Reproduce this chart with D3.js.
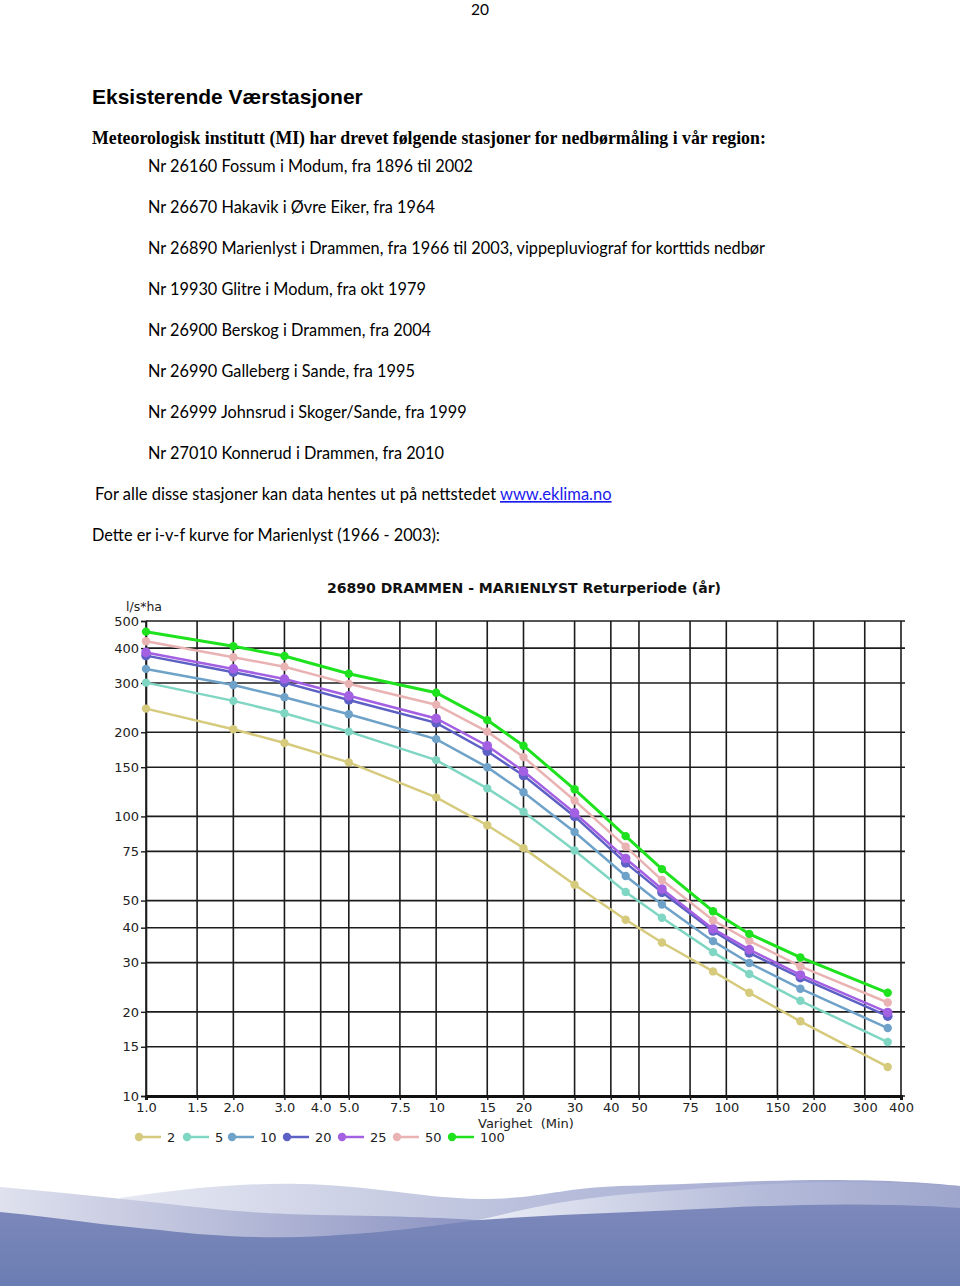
<!DOCTYPE html>
<html><head><meta charset="utf-8">
<script src="https://cdn.jsdelivr.net/npm/d3@7/dist/d3.min.js"></script>
<style>body{margin:0;background:#fff;} svg{display:block;}</style>
</head><body>
<svg id="page" width="960" height="1286"></svg>
<script>
// ---------- DATA ----------
const durations = [1, 2, 3, 5, 10, 15, 20, 30, 45, 60, 90, 120, 180, 360];
const returnPeriods = ["2", "5", "10", "20", "25", "50", "100"];
const t2   = [243, 205, 183, 156, 117, 93, 77, 57, 42.7, 35.4, 27.9, 23.4, 18.5, 12.7];
const t5   = [301, 259, 234, 201, 159, 126, 104, 75.5, 53.7, 43.4, 32.7, 27.3, 21.9, 15.6];
const t10  = [337, 295, 267, 232, 189, 150, 122, 88, 61.2, 48.4, 35.8, 29.9, 24.2, 17.5];
const t20  = [376, 328, 301, 261, 216, 171, 140, 100, 68.2, 53.5, 38.9, 32.5, 26.5, 19.3];
const t25  = [386, 337, 310, 270, 224, 179, 145, 103, 70.7, 55, 39.6, 33.4, 27.1, 19.9];
const t50  = [423, 371, 343, 298, 251, 201, 163, 114, 78, 59.2, 42.5, 35.9, 29.1, 21.6];
const t100 = [458, 406, 375, 324, 277, 221, 179, 125, 85, 64.8, 45.8, 38, 31.3, 23.4];
const seriesValues = [t2, t5, t10, t20, t25, t50, t100];
const seriesColors = ["#d6ca7c", "#7fd6c2", "#6fa2c9", "#5d60c4", "#a460e2", "#e9b3b3", "#1ee21e"];

const xTickValues = [1, 1.5, 2, 3, 4, 5, 7.5, 10, 15, 20, 30, 40, 50, 75, 100, 150, 200, 300, 400];
const xTickLabels = ["1.0", "1.5", "2.0", "3.0", "4.0", "5.0", "7.5", "10", "15", "20", "30", "40", "50", "75", "100", "150", "200", "300", "400"];
const yTickValues = [10, 15, 20, 30, 40, 50, 75, 100, 150, 200, 300, 400, 500];
const yTickLabels = ["10", "15", "20", "30", "40", "50", "75", "100", "150", "200", "300", "400", "500"];

const chartTitle = "26890 DRAMMEN - MARIENLYST Returperiode (år)";
const yUnit = "l/s*ha";
const xTitle = "Varighet  (Min)";

const pageNumber = "20";
const heading = "Eksisterende Værstasjoner";
const intro = "Meteorologisk institutt (MI) har drevet følgende stasjoner for nedbørmåling i vår region:";
const stations = [
  "Nr 26160 Fossum i Modum, fra 1896 til 2002",
  "Nr 26670 Hakavik i Øvre Eiker, fra 1964",
  "Nr 26890 Marienlyst i Drammen, fra 1966 til 2003, vippepluviograf for korttids nedbør",
  "Nr 19930 Glitre i Modum, fra okt 1979",
  "Nr 26900 Berskog i Drammen, fra 2004",
  "Nr 26990 Galleberg i Sande, fra 1995",
  "Nr 26999 Johnsrud i Skoger/Sande, fra 1999",
  "Nr 27010 Konnerud i Drammen, fra 2010"
];
const dataText = "For alle disse stasjoner kan data hentes ut på nettstedet ";
const linkText = "www.eklima.no";
const curveText = "Dette er i-v-f kurve for Marienlyst (1966 - 2003):";

// ---------- PAGE ----------
const svg = d3.select("#page");
const bodyFont = "Lato, 'Open Sans', sans-serif";

// footer waves
const defs = svg.append("defs");
const g1 = defs.append("linearGradient").attr("id", "gMain").attr("x1", 0).attr("y1", 0).attr("x2", 0).attr("y2", 1);
g1.append("stop").attr("offset", 0).attr("stop-color", "#7d88bb");
g1.append("stop").attr("offset", 1).attr("stop-color", "#6a7db2");
const g2 = defs.append("linearGradient").attr("id", "gLeft").attr("x1", 0).attr("y1", 0).attr("x2", 1).attr("y2", 0);
g2.append("stop").attr("offset", 0).attr("stop-color", "#dfe1ee");
g2.append("stop").attr("offset", 1).attr("stop-color", "#8890c0");
const g3 = defs.append("linearGradient").attr("id", "gBack").attr("x1", 0).attr("y1", 0).attr("x2", 1).attr("y2", 0);
g3.append("stop").attr("offset", 0).attr("stop-color", "#e6e8f2");
g3.append("stop").attr("offset", 0.5).attr("stop-color", "#b8bedb");
g3.append("stop").attr("offset", 1).attr("stop-color", "#9aa2cc");
const g4 = defs.append("linearGradient").attr("id", "gRight").attr("x1", 0).attr("y1", 0).attr("x2", 1).attr("y2", 0);
g4.append("stop").attr("offset", 0).attr("stop-color", "#eceef6");
g4.append("stop").attr("offset", 0.6).attr("stop-color", "#b4bbd9");
g4.append("stop").attr("offset", 1).attr("stop-color", "#9ea6cd");

const footer = svg.append("g");
footer.append("path").attr("fill", "url(#gBack)")
  .attr("d", "M120,1198 C190,1188 240,1183 300,1184 C370,1185 420,1198 480,1199 C540,1199 560,1188 620,1186 C700,1184 760,1180 830,1180 C890,1180 930,1183 960,1186 L960,1260 L120,1260 Z");
footer.append("path").attr("fill", "url(#gRight)")
  .attr("d", "M470,1222 C530,1208 560,1200 640,1193 C720,1187 780,1182 840,1182 C900,1182 940,1185 960,1186 L960,1260 L470,1260 Z");
footer.append("path").attr("fill", "url(#gLeft)")
  .attr("d", "M0,1187 C60,1192 110,1198 160,1203 C220,1210 260,1214 320,1215 C400,1216 450,1218 492,1221 L492,1260 L0,1260 Z");
footer.append("path").attr("fill", "url(#gMain)")
  .attr("d", "M0,1212 C60,1218 110,1226 160,1230 C210,1236 250,1238 300,1237 C380,1234 430,1226 480,1220 C560,1214 640,1212 720,1208 C800,1204 880,1203 960,1208 L960,1286 L0,1286 Z");

svg.append("text").attr("x", 480).attr("y", 15).attr("text-anchor", "middle")
  .attr("font-family", bodyFont).attr("font-size", 15.5).attr("fill", "#000").text(pageNumber);

svg.append("text").attr("x", 92).attr("y", 104)
  .attr("font-family", "'Liberation Sans', Arial, sans-serif").attr("font-weight", "bold")
  .attr("font-size", 21).attr("fill", "#000").text(heading);

svg.append("text").attr("x", 92).attr("y", 144)
  .attr("font-family", "'Liberation Serif', 'Times New Roman', serif").attr("font-weight", "bold")
  .attr("font-size", 17.8).attr("fill", "#000").text(intro);

svg.selectAll("text.station").data(stations).enter().append("text")
  .attr("class", "station").attr("x", 148).attr("y", (d, i) => 172 + i * 41)
  .attr("font-family", bodyFont).attr("font-size", 16.3).attr("fill", "#000").text(d => d);

const dt = svg.append("text").attr("x", 95).attr("y", 500)
  .attr("font-family", bodyFont).attr("font-size", 16.5).attr("fill", "#000");
dt.append("tspan").text(dataText);
dt.append("tspan").attr("fill", "#1a1aee").attr("text-decoration", "underline").text(linkText);

svg.append("text").attr("x", 92).attr("y", 541)
  .attr("font-family", bodyFont).attr("font-size", 16.3).attr("fill", "#000").text(curveText);

// ---------- CHART ----------
const x = d3.scaleLog().domain([1, 400]).range([146, 901]);
const y = d3.scaleLog().domain([10, 500]).range([1096, 621]);
const chartFont = "'DejaVu Sans', Verdana, sans-serif";
const chart = svg.append("g");

chart.append("text").attr("x", 524).attr("y", 593).attr("text-anchor", "middle")
  .attr("font-family", chartFont).attr("font-weight", "bold").attr("font-size", 14)
  .attr("textLength", 394).attr("lengthAdjust", "spacingAndGlyphs")
  .attr("fill", "#111").text(chartTitle);

// grid
chart.append("g").selectAll("line").data(xTickValues).enter().append("line")
  .attr("x1", d => x(d)).attr("x2", d => x(d)).attr("y1", y(500)).attr("y2", y(10))
  .attr("stroke", "#1c1c1c").attr("stroke-width", 1.6);
chart.append("g").selectAll("line").data(yTickValues).enter().append("line")
  .attr("x1", x(1)).attr("x2", 905).attr("y1", d => y(d)).attr("y2", d => y(d))
  .attr("stroke", "#1c1c1c").attr("stroke-width", 1.6);

// axes
const yAxis = d3.axisLeft(y).tickValues(yTickValues).tickFormat((d, i) => yTickLabels[i]).tickSize(5).tickPadding(2);
const yg = chart.append("g").attr("transform", `translate(${x(1)},0)`).call(yAxis);
yg.select(".domain").attr("stroke", "#1c1c1c").attr("stroke-width", 1.6);
yg.selectAll(".tick line").attr("stroke", "#1c1c1c").attr("stroke-width", 1.4);
yg.selectAll("text").attr("font-family", chartFont).attr("font-size", 13).attr("fill", "#222");

const xAxis = d3.axisBottom(x).tickValues(xTickValues).tickFormat((d, i) => xTickLabels[i]).tickSize(4).tickPadding(3);
const xg = chart.append("g").attr("transform", `translate(0,${y(10)})`).call(xAxis);
xg.select(".domain").attr("stroke", "#111").attr("stroke-width", 3);
xg.selectAll(".tick line").attr("stroke", "#1c1c1c").attr("stroke-width", 1.4);
xg.selectAll("text").attr("font-family", chartFont).attr("font-size", 13).attr("fill", "#222");

chart.append("text").attr("x", 126).attr("y", 611).attr("font-family", chartFont)
  .attr("font-size", 12.5).attr("fill", "#222").text(yUnit);
chart.append("text").attr("x", 478).attr("y", 1128).attr("font-family", chartFont)
  .attr("font-size", 13).attr("fill", "#222").attr("xml:space", "preserve").style("white-space", "pre").text(xTitle);

// series
const line = d3.line().x(d => x(d[0])).y(d => y(d[1]));
seriesValues.forEach((vals, si) => {
  const pts = durations.map((d, i) => [d, vals[i]]);
  const sg = chart.append("g");
  sg.append("path").attr("d", line(pts)).attr("fill", "none")
    .attr("stroke", seriesColors[si]).attr("stroke-width", si === 6 ? 3 : 2.5);
  sg.selectAll("circle").data(pts).enter().append("circle")
    .attr("cx", d => x(d[0])).attr("cy", d => y(d[1])).attr("r", si === 3 || si === 4 ? 4.8 : 4.2)
    .attr("fill", seriesColors[si]);
});

// legend
const legendX = [139, 187, 232, 287, 342, 397, 452];
const lg = chart.append("g");
returnPeriods.forEach((rp, i) => {
  const gx = legendX[i];
  lg.append("line").attr("x1", gx).attr("x2", gx + 22).attr("y1", 1137).attr("y2", 1137)
    .attr("stroke", seriesColors[i]).attr("stroke-width", 2.5);
  lg.append("circle").attr("cx", gx).attr("cy", 1137).attr("r", 4.2).attr("fill", seriesColors[i]);
  lg.append("text").attr("x", gx + 28).attr("y", 1142).attr("font-family", chartFont)
    .attr("font-size", 13).attr("fill", "#222").text(rp);
});
</script>
</body></html>
